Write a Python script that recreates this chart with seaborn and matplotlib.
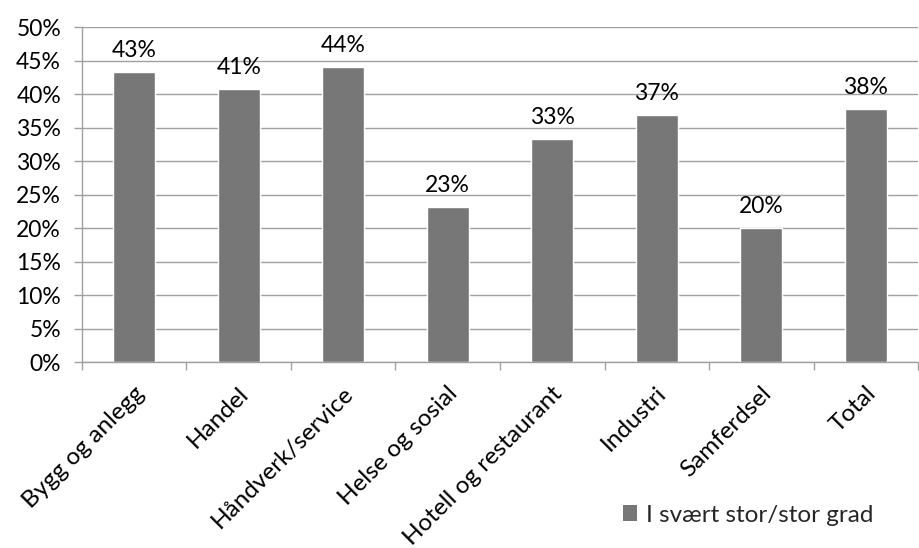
import matplotlib
matplotlib.use("Agg")
import matplotlib.pyplot as plt
import matplotlib.transforms as mtransforms
import seaborn as sns
import pandas as pd
from matplotlib.patches import Patch

categories = ["Bygg og anlegg", "Handel", "Håndverk/service", "Helse og sosial",
              "Hotell og restaurant", "Industri", "Samferdsel", "Total"]
values = [43.3, 40.7, 44.0, 23.1, 33.3, 36.9, 20.0, 37.8]
yticks = [0, 5, 10, 15, 20, 25, 30, 35, 40, 45, 50]
series_name = "I svært stor/stor grad"

sns.set_theme(style="white")
plt.rcParams["font.family"] = ["Lato", "DejaVu Sans"]

bar_color = "#777777"
axis_color = "#a0a0a0"
fs_num = 16.5
fs_text = 17.5

df = pd.DataFrame({"kategori": categories, "andel": values})

fig = plt.figure(figsize=(9.2, 5.48), dpi=100)
ax = fig.add_axes([0.089, 0.3394, 0.909, 0.6113])

sns.barplot(data=df, x="kategori", y="andel", color=bar_color, width=0.4,
            saturation=1, ax=ax)

ax.set_ylim(0, 50)
ax.set_xlim(-0.5, len(categories) - 0.5)
ax.set_yticks(yticks)
ax.set_yticklabels([f"{t}%" for t in yticks], fontsize=fs_num, color="black")
ax.yaxis.grid(True, color=axis_color, linewidth=1)
ax.set_axisbelow(True)
ax.set_xlabel("")
ax.set_ylabel("")

for side in ["top", "right"]:
    ax.spines[side].set_visible(False)
for side in ["left", "bottom"]:
    ax.spines[side].set_color(axis_color)
    ax.spines[side].set_linewidth(1)

ax.tick_params(axis="y", which="major", length=6, width=1, color=axis_color,
               direction="out", left=True, pad=9)
ax.set_xticks(range(len(categories)))
ax.set_xticklabels(categories, rotation=45, ha="right", rotation_mode="anchor",
                   fontsize=fs_text, color="black")
ax.tick_params(axis="x", which="major", length=0, pad=15)
ax.set_xticks([i - 0.5 for i in range(len(categories) + 1)], minor=True)
ax.tick_params(axis="x", which="minor", length=6, width=1, color=axis_color,
               direction="out", bottom=True)

shift = mtransforms.ScaledTranslation(-1 / 100, 0, fig.dpi_scale_trans)
for lbl in ax.get_xticklabels():
    lbl.set_transform(lbl.get_transform() + shift)

for i, v in enumerate(values):
    ax.annotate(f"{round(v):d}%", (i, v), xytext=(0, 8), textcoords="offset points",
                ha="center", va="bottom", fontsize=fs_num, color="black")

handle = Patch(facecolor=bar_color, edgecolor="none")
fig.legend([handle], [series_name], loc="center left",
           bbox_to_anchor=(0.653, 0.06), frameon=False, fontsize=fs_text,
           handlelength=0.6, handleheight=0.6, handletextpad=0.35)

fig.savefig("out.png", dpi=100, facecolor="white")
